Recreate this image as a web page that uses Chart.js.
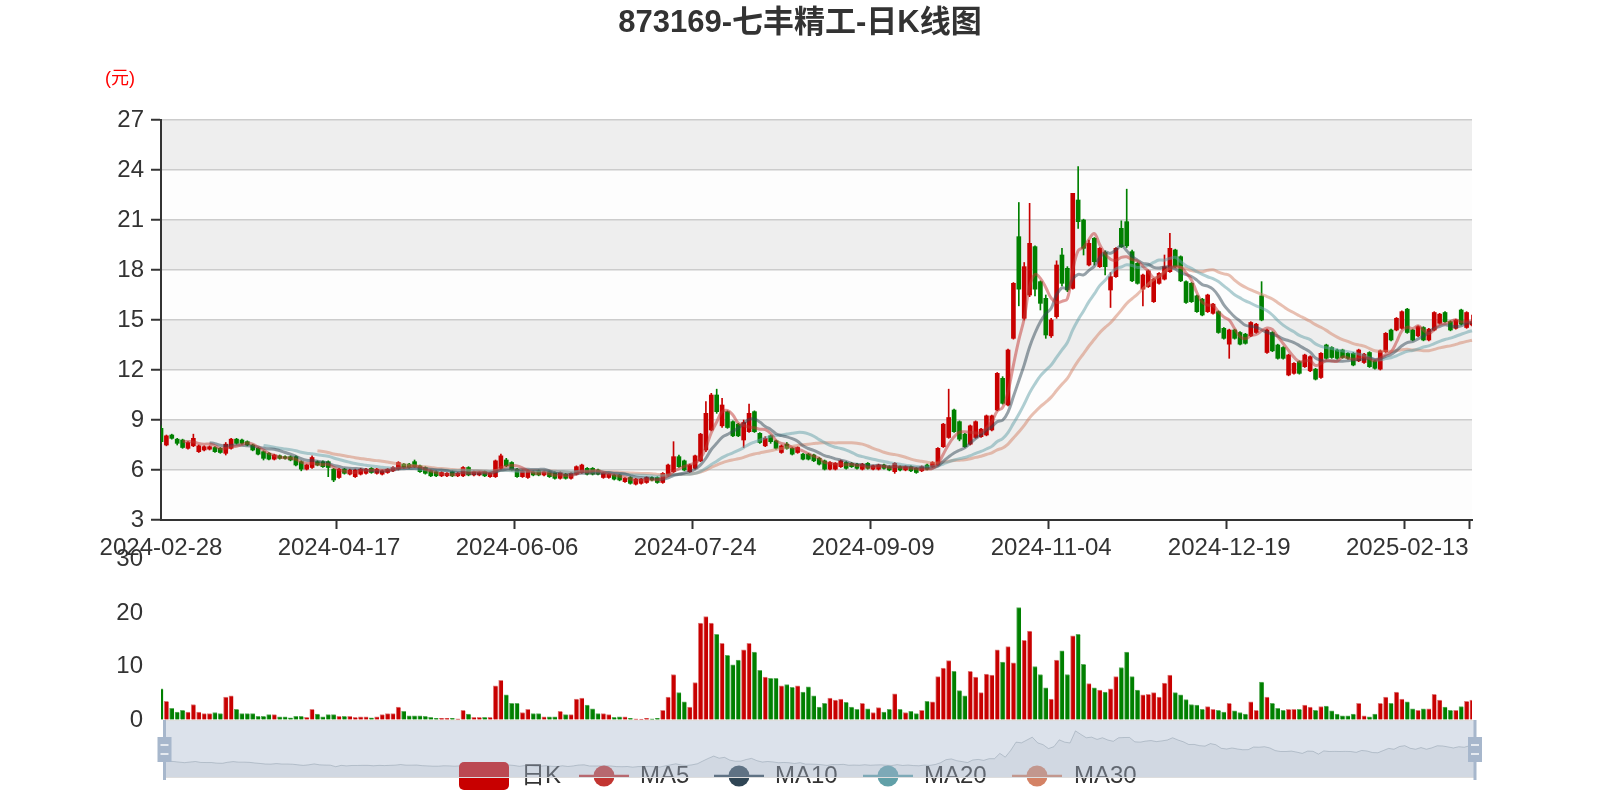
<!DOCTYPE html>
<html><head><meta charset="utf-8">
<script src="https://cdn.jsdelivr.net/npm/chart.js@4.4.1/dist/chart.umd.min.js"></script>
<style>
html,body{margin:0;padding:0;background:#fff;}
#wrap{position:relative;width:1600px;height:800px;overflow:hidden;background:#fff;}
canvas{position:absolute;left:0;}
</style></head><body>
<div id="wrap">
<canvas id="vol" style="top:538px" width="1600" height="204"></canvas>
<canvas id="zoom" style="top:700px" width="1600" height="100"></canvas>
<canvas id="main" style="top:0px" width="1600" height="560"></canvas>
</div>
<script>
const titleText = '873169-七丰精工-日K线图';
const unitText = '(元)';
const legendNames = ['日K','MA5','MA10','MA20','MA30'];
const priceTicks = [3,6,9,12,15,18,21,24,27];
const volTicks = [0,10,20,30];

const dates = [
"2024-02-28","2024-02-29",
"2024-03-01","2024-03-04","2024-03-05","2024-03-06","2024-03-07","2024-03-08","2024-03-11","2024-03-12","2024-03-13","2024-03-14","2024-03-15","2024-03-18","2024-03-19","2024-03-20","2024-03-21","2024-03-22","2024-03-25","2024-03-26","2024-03-27","2024-03-28","2024-03-29",
"2024-04-01","2024-04-02","2024-04-03","2024-04-08","2024-04-09","2024-04-10","2024-04-11","2024-04-12","2024-04-15","2024-04-16","2024-04-17","2024-04-18","2024-04-19","2024-04-22","2024-04-23","2024-04-24","2024-04-25","2024-04-26","2024-04-29","2024-04-30",
"2024-05-06","2024-05-07","2024-05-08","2024-05-09","2024-05-10","2024-05-13","2024-05-14","2024-05-15","2024-05-16","2024-05-17","2024-05-20","2024-05-21","2024-05-22","2024-05-23","2024-05-24","2024-05-27","2024-05-28","2024-05-29","2024-05-30","2024-05-31",
"2024-06-03","2024-06-04","2024-06-05","2024-06-06","2024-06-07","2024-06-11","2024-06-12","2024-06-13","2024-06-14","2024-06-17","2024-06-18","2024-06-19","2024-06-20","2024-06-21","2024-06-24","2024-06-25","2024-06-26","2024-06-27","2024-06-28",
"2024-07-01","2024-07-02","2024-07-03","2024-07-04","2024-07-05","2024-07-08","2024-07-09","2024-07-10","2024-07-11","2024-07-12","2024-07-15","2024-07-16","2024-07-17","2024-07-18","2024-07-19","2024-07-22","2024-07-23","2024-07-24","2024-07-25","2024-07-26","2024-07-29","2024-07-30","2024-07-31",
"2024-08-01","2024-08-02","2024-08-05","2024-08-06","2024-08-07","2024-08-08","2024-08-09","2024-08-12","2024-08-13","2024-08-14","2024-08-15","2024-08-16","2024-08-19","2024-08-20","2024-08-21","2024-08-22","2024-08-23","2024-08-26","2024-08-27","2024-08-28","2024-08-29","2024-08-30",
"2024-09-02","2024-09-03","2024-09-04","2024-09-05","2024-09-06","2024-09-09","2024-09-10","2024-09-11","2024-09-12","2024-09-13","2024-09-18","2024-09-19","2024-09-20","2024-09-23","2024-09-24","2024-09-25","2024-09-26","2024-09-27","2024-09-30",
"2024-10-08","2024-10-09","2024-10-10","2024-10-11","2024-10-14","2024-10-15","2024-10-16","2024-10-17","2024-10-18","2024-10-21","2024-10-22","2024-10-23","2024-10-24","2024-10-25","2024-10-28","2024-10-29","2024-10-30","2024-10-31",
"2024-11-01","2024-11-04","2024-11-05","2024-11-06","2024-11-07","2024-11-08","2024-11-11","2024-11-12","2024-11-13","2024-11-14","2024-11-15","2024-11-18","2024-11-19","2024-11-20","2024-11-21","2024-11-22","2024-11-25","2024-11-26","2024-11-27","2024-11-28","2024-11-29",
"2024-12-02","2024-12-03","2024-12-04","2024-12-05","2024-12-06","2024-12-09","2024-12-10","2024-12-11","2024-12-12","2024-12-13","2024-12-16","2024-12-17","2024-12-18","2024-12-19","2024-12-20","2024-12-23","2024-12-24","2024-12-25","2024-12-26","2024-12-27","2024-12-30","2024-12-31",
"2025-01-02","2025-01-03","2025-01-06","2025-01-07","2025-01-08","2025-01-09","2025-01-10","2025-01-13","2025-01-14","2025-01-15","2025-01-16","2025-01-17","2025-01-20","2025-01-21","2025-01-22","2025-01-23","2025-01-24","2025-01-27",
"2025-02-05","2025-02-06","2025-02-07","2025-02-10","2025-02-11","2025-02-12","2025-02-13","2025-02-14","2025-02-17","2025-02-18","2025-02-19","2025-02-20","2025-02-21","2025-02-24","2025-02-25","2025-02-26","2025-02-27","2025-02-28",
"2025-03-03"
];

const open = [
8.5,7.5,8.1,7.85,7.8,7.3,7.45,7.1,7.2,7.25,
7.35,7.3,7.0,7.3,7.85,7.8,7.7,7.5,7.3,7.1,
7.0,6.65,6.85,6.8,6.8,6.8,6.5,6.05,6.15,6.5,
6.5,6.5,6.05,5.55,6.05,5.75,5.6,5.75,5.8,6.1,
5.8,5.75,5.85,5.95,6.05,6.35,6.35,6.5,6.25,6.15,
5.95,5.9,5.65,5.65,5.9,5.65,5.65,6.15,5.7,5.7,
5.9,5.6,5.6,6.1,6.6,6.45,6.05,5.6,5.55,5.9,
5.95,5.7,5.9,5.85,5.5,5.75,5.5,5.75,5.85,6.1,
6.1,6.0,5.55,5.55,5.7,5.7,5.3,5.55,5.15,5.2,
5.25,5.55,5.55,5.25,5.7,5.9,6.8,6.55,5.9,6.1,
6.55,7.2,8.4,10.5,8.65,9.5,8.9,8.75,7.8,8.3,
9.5,8.2,7.45,8.05,7.75,7.05,7.55,7.3,7.05,6.95,
6.95,6.9,6.7,6.55,6.05,6.05,6.2,6.45,6.4,6.35,
6.05,6.4,6.05,6.05,6.3,6.2,5.9,6.2,6.0,6.2,
6.1,5.95,6.3,6.2,6.3,7.4,7.95,9.6,8.9,8.15,
7.55,7.95,8.0,8.1,8.4,9.6,11.5,9.9,13.9,20.0,
15.1,16.5,19.4,17.3,16.3,14.05,15.2,18.9,18.1,16.9,
22.2,21.0,18.3,19.9,18.2,19.05,16.8,17.6,20.5,20.9,
19.1,18.4,16.85,17.0,16.1,17.2,17.45,17.9,19.2,18.8,
17.3,17.2,16.45,16.25,15.5,15.4,15.5,14.5,13.55,14.4,
14.25,14.15,14.05,14.25,16.45,13.05,14.25,13.5,13.35,11.7,
11.8,12.5,12.2,11.95,12.05,11.55,13.5,13.35,13.2,13.2,
13.0,13.0,12.55,12.45,13.05,12.55,12.05,13.1,14.4,14.4,
14.5,15.65,14.4,14.05,14.55,13.8,14.4,14.8,15.45,14.9,
14.5,15.6,14.55,14.7
];
const high = [
8.65,8.1,8.15,7.9,7.85,7.7,8.15,7.5,7.45,7.45,
7.4,7.35,7.65,7.9,7.9,7.85,7.75,7.55,7.35,7.15,
7.05,6.95,6.9,6.85,6.85,6.85,6.55,6.35,6.85,6.55,
6.55,6.55,6.1,6.1,6.1,6.05,6.05,6.1,6.1,6.15,
6.1,6.0,6.1,6.2,6.5,6.4,6.4,6.6,6.3,6.2,
6.0,5.95,5.9,5.85,5.95,5.85,6.2,6.2,5.95,5.9,
5.95,5.85,6.6,6.95,6.7,6.5,6.1,6.0,6.0,5.95,
6.0,5.95,5.95,5.9,5.9,5.8,5.85,6.25,6.35,6.15,
6.15,6.05,5.85,5.8,5.75,5.75,5.55,5.6,5.5,5.5,
5.6,5.6,5.6,5.85,6.35,7.7,6.9,6.6,6.35,6.9,
8.2,10.1,10.6,10.85,10.3,9.55,8.95,8.8,9.0,9.95,
9.55,8.25,8.0,8.1,7.8,7.5,7.65,7.35,7.4,7.0,
7.0,6.95,6.75,6.6,6.5,6.45,6.6,6.5,6.45,6.4,
6.4,6.45,6.3,6.35,6.35,6.25,6.45,6.25,6.25,6.25,
6.15,6.25,6.35,6.5,7.35,8.8,10.85,9.65,8.95,8.2,
8.7,8.95,8.5,9.3,9.3,11.85,11.6,13.25,17.25,22.05,
18.45,22.0,19.45,17.35,16.5,15.1,18.55,19.3,18.2,22.6,
24.2,21.05,19.8,19.95,19.35,19.15,17.85,19.35,20.95,22.85,
19.2,18.45,17.75,18.0,17.5,17.85,18.9,20.2,19.25,18.85,
17.35,17.25,16.5,16.3,16.55,16.0,15.55,14.55,14.45,14.45,
14.3,14.2,14.9,14.8,17.3,14.45,14.3,13.55,13.4,12.95,
12.45,12.55,12.95,12.85,12.1,13.05,13.55,13.4,13.25,13.25,
13.05,13.05,13.25,13.0,13.1,12.6,13.2,14.25,14.45,15.15,
15.55,15.7,14.45,14.65,14.6,14.5,15.5,15.4,15.5,14.95,
15.05,15.65,15.5,15.3
];
const low = [
7.6,7.45,7.85,7.5,7.3,7.25,7.4,7.05,7.15,7.2,
7.05,7.0,6.9,7.25,7.55,7.55,7.45,7.15,6.9,6.6,
6.6,6.6,6.65,6.65,6.55,6.25,5.95,6.0,6.1,6.25,
6.15,5.6,5.3,5.5,5.75,5.7,5.55,5.7,5.75,5.8,
5.75,5.7,5.8,5.9,6.0,6.1,6.1,6.15,5.85,5.75,
5.6,5.6,5.6,5.6,5.6,5.6,5.6,5.65,5.65,5.65,
5.6,5.55,5.55,6.0,6.2,5.95,5.55,5.55,5.5,5.65,
5.65,5.65,5.55,5.45,5.45,5.45,5.45,5.7,5.8,5.7,
5.7,5.7,5.5,5.5,5.4,5.35,5.25,5.15,5.1,5.15,
5.2,5.35,5.2,5.2,5.65,5.85,6.15,5.95,5.85,6.05,
6.5,7.1,8.35,9.4,8.55,8.5,8.0,8.0,7.35,8.25,
8.25,7.6,7.4,7.6,7.25,7.0,7.25,6.9,7.0,6.6,
6.6,6.5,6.3,6.0,6.0,6.0,6.15,6.05,6.15,6.05,
6.0,6.05,6.0,6.0,6.05,5.95,5.8,5.95,5.95,5.9,
5.8,5.9,6.0,6.15,6.25,7.35,7.9,8.25,7.75,7.35,
7.5,7.9,7.95,8.05,8.35,9.55,9.95,9.85,13.85,15.85,
15.0,16.4,16.45,15.6,13.9,13.95,15.1,17.05,16.7,16.85,
20.5,18.9,18.25,18.3,18.15,17.7,15.75,17.55,19.35,19.35,
17.3,17.15,15.85,16.95,16.05,17.15,17.4,17.85,18.15,17.3,
16.0,16.05,15.45,15.25,15.45,15.35,14.2,13.85,12.7,13.85,
13.5,13.55,14.0,14.2,14.95,13.0,13.1,12.65,12.65,11.65,
11.75,11.75,12.15,11.9,11.4,11.5,12.65,12.7,12.65,12.7,
12.65,12.25,12.5,12.4,12.15,12.05,12.0,13.05,13.75,14.35,
14.45,14.2,13.75,14.0,13.75,13.75,14.35,14.75,14.85,14.35,
14.45,14.7,14.5,14.65
];
const close = [
7.7,8.05,7.9,7.6,7.35,7.65,7.9,7.45,7.4,7.4,
7.1,7.05,7.55,7.85,7.6,7.6,7.5,7.2,6.95,6.7,
6.65,6.9,6.7,6.7,6.6,6.3,6.05,6.3,6.75,6.3,
6.2,6.15,5.4,6.05,5.8,6.0,6.0,6.05,6.05,5.85,
6.05,5.95,6.05,6.15,6.45,6.15,6.15,6.2,5.9,5.8,
5.65,5.65,5.85,5.8,5.65,5.8,6.15,5.7,5.9,5.85,
5.65,5.8,6.55,6.85,6.25,6.0,5.6,5.95,5.95,5.7,
5.7,5.9,5.6,5.5,5.85,5.5,5.8,6.2,6.3,5.75,
5.75,5.75,5.8,5.75,5.45,5.4,5.5,5.2,5.45,5.45,
5.55,5.4,5.25,5.8,6.3,6.8,6.2,6.0,6.3,6.85,
8.15,9.4,10.5,9.5,9.9,8.55,8.05,8.05,8.85,9.4,
8.3,7.65,7.9,7.7,7.3,7.45,7.3,6.95,7.35,6.65,
6.65,6.55,6.35,6.05,6.45,6.4,6.55,6.1,6.2,6.1,
6.35,6.1,6.25,6.3,6.1,6.0,6.4,6.0,6.2,5.95,
5.85,6.2,6.05,6.45,7.3,8.75,9.15,8.3,7.85,7.4,
8.65,8.9,8.45,9.25,9.25,11.8,10.0,13.2,17.2,16.85,
18.2,19.6,16.85,16.0,14.1,15.0,18.3,17.2,16.8,22.6,
20.9,19.3,19.6,18.5,19.3,18.2,17.6,19.3,19.4,19.45,
17.35,17.2,17.7,17.95,17.45,17.8,18.2,19.3,18.2,17.35,
16.05,16.1,15.5,15.3,16.5,15.95,14.25,13.9,14.4,13.9,
13.55,13.6,14.85,14.75,15.0,14.4,13.15,12.7,12.7,12.9,
12.4,11.8,12.9,12.8,11.45,13.0,12.7,12.75,12.7,12.75,
12.7,12.3,13.2,12.95,12.2,12.1,13.15,14.2,13.8,15.1,
15.5,14.25,13.8,14.6,13.8,14.45,15.45,15.35,14.9,14.4,
15.0,14.75,15.45,14.9
];
const volume = [
5.8,3.5,2.2,1.5,1.8,1.5,2.9,1.5,1.2,1.2,
1.4,1.2,4.3,4.5,2.0,1.2,1.2,1.2,0.7,0.7,
1.0,1.0,0.6,0.6,0.4,0.7,0.7,0.5,2.0,1.1,
0.6,1.0,1.0,0.7,0.7,0.7,0.5,0.6,0.6,0.4,
0.6,1.0,1.2,1.2,2.4,1.6,0.8,0.8,0.8,0.7,
0.5,0.3,0.3,0.3,0.3,0.2,1.8,1.1,0.5,0.5,
0.5,0.5,6.4,7.4,4.7,3.1,3.1,1.4,2.0,1.2,
1.2,0.6,0.6,0.6,1.6,1.0,1.0,3.9,4.1,2.8,
2.1,1.2,1.2,1.0,0.5,0.6,0.6,0.3,0.2,0.15,
0.3,0.2,0.3,1.8,4.3,8.5,5.1,3.4,2.4,7.0,
18.1,19.3,18.1,16.0,14.3,12.1,10.3,11.2,13.1,14.3,
12.7,9.3,8.0,7.8,7.8,6.4,6.6,6.1,6.4,5.2,
6.2,4.5,2.4,3.1,4.1,3.7,3.9,3.3,2.4,2.0,
3.1,2.1,1.4,2.3,1.5,2.0,4.9,2.0,1.4,1.6,
1.2,1.8,3.5,3.4,8.1,9.7,11.1,9.1,5.5,4.5,
9.1,8.0,5.1,8.6,8.4,13.1,10.8,13.7,10.7,21.0,
14.9,16.6,10.0,8.5,6.0,3.9,11.2,12.9,8.5,15.7,
16.0,10.4,6.8,6.0,5.6,5.2,5.8,8.1,9.8,12.7,
8.1,5.6,4.7,4.8,5.1,4.3,6.9,8.4,5.1,4.7,
3.8,2.9,2.8,2.0,2.5,2.0,1.8,1.5,3.1,1.7,
1.4,1.1,3.4,1.8,7.1,4.3,3.1,2.2,1.8,2.0,
2.0,2.0,2.8,2.4,1.8,2.5,2.6,1.7,1.1,0.8,
0.8,1.1,3.1,0.8,0.6,1.1,3.1,4.3,3.1,5.2,
3.9,3.4,2.1,1.8,2.1,2.1,4.8,3.7,2.4,1.8,
1.8,2.5,3.5,3.7
];

const UP = '#c80000', DOWN = '#008000';
const UP_EDGE = '#e07c7c', DOWN_EDGE = '#5fae5f';
const MA_COLORS = ['#c23531','#2f4554','#61a0a8','#d48265'];
const MA_ALPHA = ['rgba(194,53,49,0.5)','rgba(47,69,84,0.5)','rgba(97,160,168,0.5)','rgba(212,130,101,0.5)'];
const N = dates.length;
const isUp = i => close[i] >= open[i];
function calcMA(n){
  return close.map((c,i)=>{
    if(i < n-1) return null;
    let s=0; for(let k=i-n+1;k<=i;k++) s+=close[k];
    return +(s/n).toFixed(3);
  });
}
const FONT = '"Liberation Sans", "Noto Sans CJK SC", sans-serif';
Chart.defaults.font.family = FONT;
Chart.defaults.animation = false;

const common = {responsive:false, animation:false, devicePixelRatio:1,
  plugins:{legend:{display:false}, tooltip:{enabled:false}, title:{display:false}}};

const mainPlugin = {
  id:'mainDeco',
  beforeDraw(chart){
    const {ctx, chartArea:a, scales:{y}} = chart;
    ctx.save();
    for(let k=0;k<priceTicks.length-1;k++){
      const y0 = y.getPixelForValue(priceTicks[k]);
      const y1 = y.getPixelForValue(priceTicks[k+1]);
      ctx.fillStyle = (k%2) ? '#eeeeee' : '#fdfdfd';
      ctx.fillRect(a.left, y1, a.right-a.left, y0-y1);
    }
    ctx.restore();
  },
  afterDraw(chart){
    const ctx = chart.ctx;
    ctx.save();
    ctx.textAlign='center'; ctx.textBaseline='middle';
    ctx.fillStyle='#333';
    ctx.font = 'bold 31px ' + FONT;
    ctx.fillText(titleText, 800, 23);
    ctx.fillStyle='red';
    ctx.font = '18px ' + FONT;
    ctx.fillText(unitText, 120, 79);
    ctx.restore();
  }
};

new Chart(document.getElementById('main'), {
  type:'bar',
  data:{labels:dates, datasets:[
    ...[5,10,20,30].map((n,k)=>({type:'line', label:legendNames[k+1], data:calcMA(n),
      borderColor:MA_ALPHA[k], borderWidth:3, pointRadius:0, tension:0.4, fill:false, order:0, spanGaps:false})),
    {label:'wick', data:dates.map((d,i)=>[low[i],high[i]]), backgroundColor:c=>isUp(c.dataIndex)?UP:DOWN,
      barThickness:1, grouped:false, order:2},
    {label:legendNames[0], data:dates.map((d,i)=>[open[i],close[i]]), backgroundColor:c=>isUp(c.dataIndex)?UP:DOWN,
      barThickness:4, minBarLength:1, grouped:false, order:1}
  ]},
  options:{...common,
    layout:{padding:{top:120,left:0,right:128,bottom:0}},
    scales:{
      x:{type:'category', offset:false,
        grid:{display:true, drawOnChartArea:false, drawTicks:true, tickLength:9, tickWidth:2,
          tickColor:c=> (c.index%33===0 || c.index===N-1) ? '#333' : 'rgba(0,0,0,0)'},
        border:{display:true, color:'#333', width:2},
        ticks:{autoSkip:false, maxRotation:0, minRotation:0, color:'#333', padding:5,
          font:{size:24}, callback:(v,i)=> i%33===0 ? dates[i] : ''},
        afterFit:s=>{s.height=40;}
      },
      y:{min:3, max:27,
        afterBuildTicks:s=>{s.ticks = priceTicks.map(v=>({value:v}));},
        ticks:{color:'#333', padding:7, font:{size:24}},
        grid:{color:'#cccccc', lineWidth:1.5, tickLength:10, tickColor:'#333', tickWidth:2},
        border:{display:true, color:'#333', width:2},
        afterFit:s=>{s.width=161;}
      }
    }
  },
  plugins:[mainPlugin]
});

new Chart(document.getElementById('vol'), {
  type:'bar',
  data:{labels:dates, datasets:[{label:'成交量', data:volume,
    backgroundColor:c=>isUp(c.dataIndex)?UP:DOWN,
    borderColor:c=>isUp(c.dataIndex)?UP_EDGE:DOWN_EDGE,
    borderWidth:{left:1,top:1,right:0,bottom:0}, borderSkipped:false,
    barThickness:4.4}]},
  options:{...common,
    layout:{padding:{top:21,left:0,right:128,bottom:22}},
    scales:{
      x:{type:'category', offset:false, display:false},
      y:{min:0, max:30,
        afterBuildTicks:s=>{s.ticks = volTicks.map(v=>({value:v}));},
        ticks:{color:'#333', padding:7, font:{size:24}},
        grid:{display:true, drawOnChartArea:false, drawTicks:true, tickLength:11, tickColor:'rgba(0,0,0,0)'},
        border:{display:false},
        afterFit:s=>{s.width=161;}
      }
    }
  }
});

const cMin = Math.min(...close), cMax = Math.max(...close), cR = cMax - cMin;
const T = 700;
const sliderPlugin = {
  id:'sliderDeco',
  afterDraw(chart){
    const ctx = chart.ctx;
    ctx.save();
    ctx.font = '24px ' + FONT;
    ctx.textBaseline='middle'; ctx.textAlign='left';
    const cy = 776 - T;
    ctx.fillStyle = UP;
    ctx.beginPath();
    if (ctx.roundRect) ctx.roundRect(459, 762-T, 50, 28, 5); else ctx.rect(459,762-T,50,28);
    ctx.fill();
    ctx.fillStyle='#333';
    ctx.fillText(legendNames[0], 521, cy);
    const items = [[579,640],[714,775],[863,924],[1012,1074]];
    items.forEach((it,k)=>{
      ctx.strokeStyle = MA_COLORS[k]; ctx.lineWidth = 2.5;
      ctx.beginPath(); ctx.moveTo(it[0], cy); ctx.lineTo(it[0]+50, cy); ctx.stroke();
      ctx.fillStyle = MA_COLORS[k];
      ctx.beginPath(); ctx.arc(it[0]+25, cy, 10.5, 0, Math.PI*2); ctx.fill();
      ctx.fillStyle = '#333';
      ctx.fillText(legendNames[k+1], it[1], cy);
    });
    const a = chart.chartArea;
    ctx.fillStyle='rgba(167,183,204,0.4)';
    ctx.fillRect(a.left, a.top, a.right-a.left, a.bottom-a.top);
    ctx.strokeStyle='#dddddd'; ctx.lineWidth=1;
    ctx.strokeRect(a.left+0.5, a.top+0.5, a.right-a.left-1, a.bottom-a.top-1);
    [a.left+1.5, a.right].forEach(x=>{
      ctx.fillStyle='#a7b7cc';
      ctx.fillRect(x-1.5, a.top, 3, 60);
      ctx.fillRect(x-7, 737-T, 14, 25);
      ctx.fillStyle='rgba(255,255,255,0.7)';
      ctx.fillRect(x-4, 744-T, 8, 2);
      ctx.fillRect(x-4, 753-T, 8, 2);
    });
    ctx.restore();
  }
};

new Chart(document.getElementById('zoom'), {
  type:'line',
  data:{labels:dates, datasets:[{label:'shadow', data:close, borderColor:'rgba(47,69,84,0.3)', borderWidth:1,
    backgroundColor:'rgba(47,69,84,0.09)', fill:'start', pointRadius:0, tension:0}]},
  options:{...common,
    layout:{padding:{top:20,left:163,right:125,bottom:22}},
    scales:{
      x:{type:'category', offset:false, display:false},
      y:{display:false, min:cMin-0.3*cR, max:cMax+0.3*cR}
    }
  },
  plugins:[sliderPlugin]
});
</script>
</body></html>
